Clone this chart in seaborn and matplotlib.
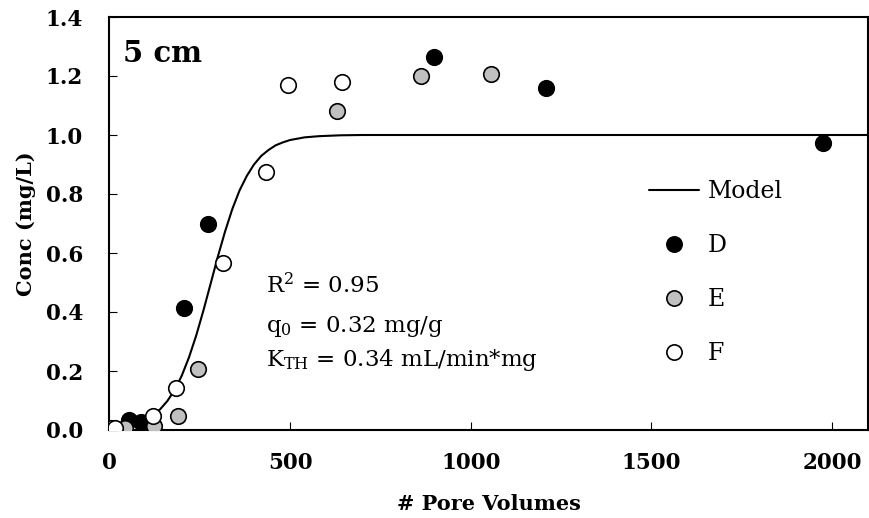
import numpy as np
import pandas as pd
import matplotlib
matplotlib.use("Agg")
import matplotlib.pyplot as plt
import seaborn as sns
from matplotlib.lines import Line2D

# ---------------- data ----------------
d_x = [53, 88, 207, 272, 899, 1208, 1975]
d_y = [0.034, 0.028, 0.412, 0.700, 1.265, 1.158, 0.974]

e_x = [42, 124, 190, 244, 629, 862, 1056]
e_y = [0.006, 0.012, 0.047, 0.207, 1.081, 1.201, 1.207]

f_x = [5, 16, 120, 183, 315, 433, 493, 644]
f_y = [0.006, 0.006, 0.046, 0.141, 0.567, 0.873, 1.169, 1.181]

model_x = [120, 140, 160, 180, 200, 220, 240, 260, 280, 300, 320, 340, 360,
           380, 400, 420, 440, 460, 480, 500, 540, 580, 640, 700, 2100]
model_y = [0.049, 0.070, 0.098, 0.135, 0.184, 0.246, 0.320, 0.405, 0.496,
           0.588, 0.673, 0.749, 0.812, 0.861, 0.900, 0.929, 0.949, 0.965,
           0.975, 0.983, 0.992, 0.996, 0.999, 1.000, 1.000]

x_ticks = [0, 500, 1000, 1500, 2000]
y_ticks = [0.0, 0.2, 0.4, 0.6, 0.8, 1.0, 1.2, 1.4]
y_tick_labels = ["0.0", "0.2", "0.4", "0.6", "0.8", "1.0", "1.2", "1.4"]

stats_lines = [r"R$^{2}$ = 0.95", r"q$_{0}$ = 0.32 mg/g",
               r"K$_{\mathrm{TH}}$ = 0.34 mL/min*mg"]
panel_label = "5 cm"

# ---------------- style ----------------
sns.set_style("ticks")
plt.rcParams["font.family"] = ["DejaVu Serif"]
plt.rcParams["mathtext.fontset"] = "dejavuserif"
for key in ["text.color", "axes.labelcolor", "xtick.color", "ytick.color", "axes.edgecolor"]:
    plt.rcParams[key] = "black"

fig = plt.figure(figsize=(8.7, 5.18), dpi=100)
ax = fig.add_axes([109.5 / 870, 1 - 430 / 518, (868 - 109.5) / 870, (430 - 17) / 518])

model_df = pd.DataFrame({"x": model_x, "y": model_y})
sns.lineplot(data=model_df, x="x", y="y", ax=ax, color="black", linewidth=1.5,
             sort=False, estimator=None, zorder=2)

mk = dict(s=125, linewidth=1.2, edgecolor="black", zorder=3, ax=ax, legend=False)
sns.scatterplot(x=d_x, y=d_y, color="black", **mk)
sns.scatterplot(x=e_x, y=e_y, color="#c0c0c0", **mk)
sns.scatterplot(x=f_x, y=f_y, color="white", **mk)

ax.set_xlim(0, 2100)
ax.set_ylim(0, 1.4)
ax.set_xticks(x_ticks)
ax.set_yticks(y_ticks)
ax.set_yticklabels(y_tick_labels)

for s in ax.spines.values():
    s.set_visible(True)
    s.set_linewidth(1.5)
    s.set_color("black")

ax.tick_params(direction="in", length=5.5, width=0.8, colors="black")
ax.tick_params(axis="y", pad=19)
ax.tick_params(axis="x", pad=16)
for lab in ax.get_xticklabels() + ax.get_yticklabels():
    lab.set_fontsize(15.5)
    lab.set_fontweight("bold")

ax.set_xlabel("# Pore Volumes", fontsize=15, fontweight="bold", labelpad=14)
ax.set_ylabel("Conc (mg/L)", fontsize=15, fontweight="bold", labelpad=7)

ax.text(36, 1.248, panel_label, fontsize=21, fontweight="bold", va="baseline", ha="left")

for yy, line in zip([0.463, 0.333, 0.217], stats_lines):
    ax.text(432, yy, line, fontsize=16.5, va="baseline", ha="left")

handles = [
    Line2D([0], [0], color="black", lw=1.5),
    Line2D([0], [0], marker="o", ls="none", markersize=11, markerfacecolor="black",
           markeredgecolor="black", markeredgewidth=1.2),
    Line2D([0], [0], marker="o", ls="none", markersize=11, markerfacecolor="#c0c0c0",
           markeredgecolor="black", markeredgewidth=1.2),
    Line2D([0], [0], marker="o", ls="none", markersize=11, markerfacecolor="white",
           markeredgecolor="black", markeredgewidth=1.2),
]
fig.legend(handles, ["Model", "D", "E", "F"], loc="upper left",
           bbox_to_anchor=(649 / 870, 1 - 180 / 518), frameon=False,
           fontsize=17, handlelength=2.1, handletextpad=0.38, labelspacing=1.31,
           borderpad=0, borderaxespad=0)

fig.savefig("out.png", dpi=100)
